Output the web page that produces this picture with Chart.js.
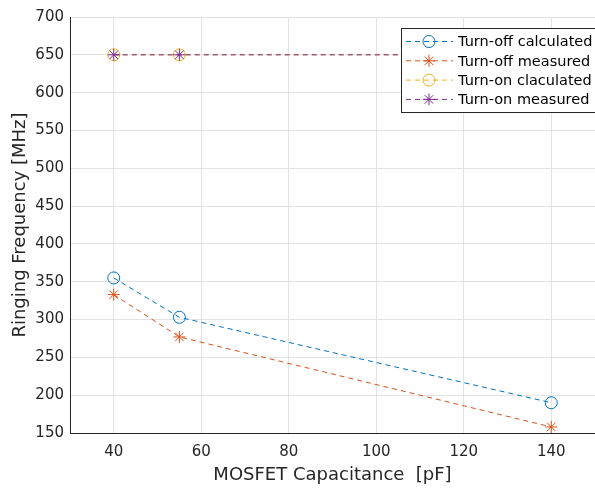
<!DOCTYPE html>
<html><head><meta charset="utf-8">
<script src="https://cdn.jsdelivr.net/npm/chart.js@4/dist/chart.umd.min.js"></script>
<style>html,body{margin:0;padding:0;background:#fff}#wrap{width:595px;height:488px}</style>
</head><body><div id="wrap"><canvas id="c" width="595" height="488"></canvas></div>
<script>
const capacitance = [40, 55, 140];
const turnOffCalculated = [355, 303, 190];
const turnOffMeasured = [333, 277, 158];
const turnOnCalculated = [650, 650, 650];
const turnOnMeasured = [650, 650, 650];
const seriesNames = ['Turn-off calculated', 'Turn-off measured', 'Turn-on claculated', 'Turn-on measured'];
const xTickValues = [40, 60, 80, 100, 120, 140];
const xTitle = 'MOSFET Capacitance  [pF]';
const yTitle = 'Ringing Frequency [MHz]';

const FONT = 'DejaVu Sans';
const colors = ['#0072BD', '#D95319', '#EDB120', '#7E2F8E'];
const styles = ['circle', 'star', 'circle', 'star'];
const seriesData = [turnOffCalculated, turnOffMeasured, turnOnCalculated, turnOnMeasured];

const datasets = seriesData.map((vals, i) => ({
  label: seriesNames[i],
  data: capacitance.map((x, j) => ({x, y: vals[j]})),
  order: seriesData.length - i,
  borderColor: colors[i],
  backgroundColor: 'rgba(0,0,0,0)',
  borderWidth: 1,
  borderDash: [5, 4],
  pointStyle: styles[i],
  pointRadius: 6,
  pointBorderColor: colors[i],
  pointBackgroundColor: 'rgba(0,0,0,0)',
  pointBorderWidth: 1,
  tension: 0,
  fill: false
}));

const legendPlugin = {
  id: 'matlabLegend',
  afterDraw(chart) {
    const ctx = chart.ctx;
    const x0 = 401, y0 = 28, w = 196, h = 84;
    ctx.save();
    ctx.fillStyle = '#fff';
    ctx.fillRect(x0, y0, w, h);
    ctx.strokeStyle = '#262626';
    ctx.lineWidth = 1;
    ctx.strokeRect(x0 + 0.5, y0 + 0.5, w, h);
    chart.data.datasets.forEach((ds, i) => {
      const yy = y0 + 13.5 + i * 19.3;
      ctx.strokeStyle = ds.borderColor;
      ctx.lineWidth = 1;
      ctx.setLineDash([5, 4]);
      ctx.beginPath(); ctx.moveTo(406, yy); ctx.lineTo(453, yy); ctx.stroke();
      ctx.setLineDash([]);
      ctx.fillStyle = 'rgba(0,0,0,0)';
      Chart.helpers.drawPoint(ctx, {pointStyle: ds.pointStyle, radius: 6, rotation: 0, borderWidth: 1}, 429, yy);
      ctx.fillStyle = '#000';
      ctx.font = '14.5px "' + FONT + '"';
      ctx.textBaseline = 'middle';
      ctx.textAlign = 'left';
      ctx.fillText(ds.label, 458, yy + 1);
    });
    ctx.restore();
  }
};

new Chart(document.getElementById('c'), {
  type: 'line',
  data: { datasets },
  plugins: [legendPlugin],
  options: {
    responsive: false,
    animation: false,
    layout: { autoPadding: false, padding: { top: 17, right: 0, left: 0, bottom: 0 } },
    plugins: { legend: { display: false }, tooltip: { enabled: false } },
    scales: {
      x: {
        type: 'linear', min: 30, max: 150,
        afterBuildTicks(scale) { scale.ticks = xTickValues.map(v => ({value: v})); },
        afterFit(scale) { scale.height = 55; scale.paddingRight = 0; scale.paddingLeft = 0; },
        grid: { color: '#e3e3e3', drawTicks: false },
        border: { color: '#262626', width: 1 },
        ticks: { color: '#262626', font: { family: FONT, size: 15 }, padding: 10, maxRotation: 0 },
        title: { display: true, text: xTitle, color: '#262626', font: { family: FONT, size: 18 }, padding: { top: 0, bottom: 2 } }
      },
      y: {
        type: 'linear', min: 150, max: 700,
        afterFit(scale) { scale.width = 70; scale.paddingTop = 0; scale.paddingBottom = 0; },
        grid: { color: '#e3e3e3', drawTicks: false },
        border: { color: '#262626', width: 1 },
        ticks: { stepSize: 50, color: '#262626', font: { family: FONT, size: 15 }, padding: 6 },
        title: { display: true, text: yTitle, color: '#262626', font: { family: FONT, size: 18 }, padding: { top: 10, bottom: 0 } }
      }
    }
  }
});
</script>
</body></html>
